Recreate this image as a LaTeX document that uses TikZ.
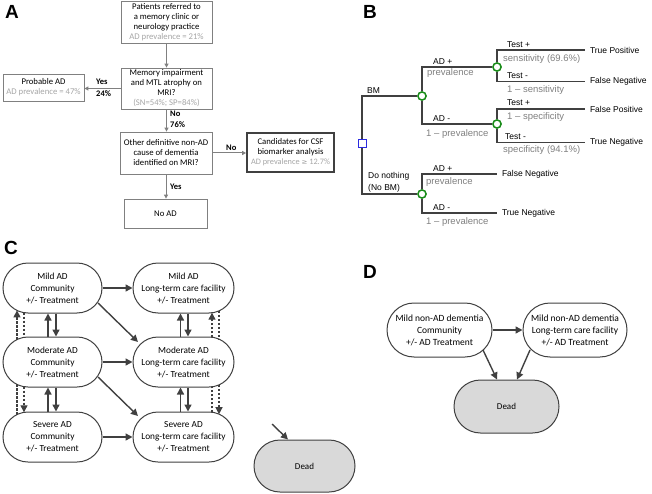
\documentclass[tikz,border=0pt]{standalone}
\usepackage{fontspec}
\setmainfont{Carlito}
\newfontfamily\arial{Liberation Sans}
\newfontfamily\djv{DejaVu Sans}
\usetikzlibrary{arrows.meta,shapes.misc,calc}
\definecolor{agray}{HTML}{808080}
\definecolor{ltext}{HTML}{A6A6A6}
\definecolor{btext}{HTML}{808080}
\definecolor{dk}{HTML}{404040}
\definecolor{tgreen}{HTML}{1A8C1A}
\definecolor{tblue}{HTML}{2B2BE0}
\definecolor{deadfill}{HTML}{D9D9D9}
\tikzset{
  plabel/.style={font=\arial\bfseries\fontsize{19}{19}\selectfont, inner sep=0pt},
  abox/.style={draw=agray, line width=0.8pt, fill=white, align=center, inner sep=0pt, font=\fontsize{8.7}{10}\selectfont},
  thickbox/.style={abox, draw=dk, line width=1.8pt},
  aarr/.style={draw=agray, line width=1pt, -{Triangle[length=4pt,width=4pt]}},
  alab/.style={font=\bfseries\fontsize{8.5}{10}\selectfont, inner sep=0pt, anchor=west},
  bl/.style={draw=dk, line width=1.1pt},
  circ/.style={circle, draw=tgreen, line width=1.4pt, fill=white, minimum size=8pt, inner sep=0pt},
  sqn/.style={rectangle, draw=tblue, line width=1pt, fill=white, minimum size=8pt, inner sep=0pt},
  blab/.style={font=\arial\fontsize{8.5}{10}\selectfont, inner sep=0pt, anchor=base west},
  glab/.style={font=\arial\fontsize{9.5}{11}\selectfont, text=btext, inner sep=0pt, anchor=base west},
  outc/.style={font=\arial\fontsize{8.5}{10}\selectfont, inner xsep=5pt, inner ysep=0pt, anchor=west, outer sep=0pt},
  cbox/.style={rounded rectangle, draw=dk, line width=1pt, fill=white, align=center, inner sep=0pt, minimum width=99pt, minimum height=50pt, font=\fontsize{9.3}{12}\selectfont},
  dbox/.style={cbox, minimum width=105pt, minimum height=54pt, font=\fontsize{9.5}{12}\selectfont},
  deadbox/.style={cbox, fill=deadfill},
  carr/.style={draw=dk, line width=1.4pt, -{Triangle[length=7pt,width=7pt]}},
  cdash/.style={draw=dk, line width=1.2pt, dash pattern=on 2.5pt off 1.5pt},
  cdarr/.style={cdash, -{Triangle[length=7pt,width=7pt]}}
}
\begin{document}
\begin{tikzpicture}[x=1pt,y=-1pt]
\useasboundingbox (0,0) rectangle (652,494);

% ---------- Panel labels
\node[plabel] (lA) at (12,12) {A};
\node[plabel] (lB) at (370,12) {B};
\node[plabel] (lC) at (11,248) {C};
\node[plabel] (lD) at (370,272) {D};

% ---------- Panel A
\node[abox, minimum width=91pt, minimum height=42pt] (a1) at (166.5,22) {Patients referred to\\a memory clinic or\\neurology practice\\\textcolor{ltext}{AD prevalence = 21\%}};
\node[abox, minimum width=91pt, minimum height=41pt] (a2) at (166.5,88.5) {Memory impairment\\and MTL atrophy on\\MRI?\\\textcolor{ltext}{(SN=54\%; SP=84\%)}};
\node[abox, minimum width=81pt, minimum height=27pt] (pad) at (43.5,87.5) {Probable AD\\\textcolor{ltext}{AD prevalence = 47\%}};
\node[abox, minimum width=92pt, minimum height=42pt] (a3) at (166,153) {Other definitive non-AD\\cause of dementia\\identified on MRI?};
\node[thickbox, minimum width=87pt, minimum height=39pt] (a4) at (290.5,152.5) {Candidates for CSF\\biomarker analysis\\\textcolor{ltext}{\fontsize{8.3}{10}\selectfont AD prevalence {\djv\fontsize{7}{10}\selectfont≥} 12.7\%}};
\node[abox, minimum width=83pt, minimum height=29pt] (a5) at (165.5,213.5) {No AD};

\draw[aarr] (a1.south) -- (a2.north);
\draw[aarr] (a2.west) -- (a2.west -| pad.east);
\draw[aarr] (a2.south) -- (a2.south |- a3.north);
\draw[aarr] (a3.east) -- (a3.east -| a4.west);
\draw[aarr] (a3.south) -- (a3.south |- a5.north);

\node[alab] (yes1) at (96,82) {Yes};
\node[alab] (p24) at (96,93.5) {24\%};
\node[alab] (no1) at (170,114) {No};
\node[alab] (p76) at (170,125) {76\%};
\node[alab] (no2) at (226,148) {No};
\node[alab] (yes2) at (170,187) {Yes};

% ---------- Panel B
\node[sqn] (r) at (362,144) {};
\node[circ] (c1) at (422,96) {};
\node[circ] (c2) at (422,194) {};
\node[circ] (c3) at (497,67) {};
\node[circ] (c4) at (497,124) {};
\node[outc] (o1) at (585,50) {True Positive};
\node[outc] (o2) at (585,81.5) {False Negative};
\node[outc] (o3) at (585,109) {False Positive};
\node[outc] (o4) at (585,142.5) {True Negative};
\node[outc] (o5) at (497,174) {False Negative};
\node[outc] (o6) at (497,213) {True Negative};

\draw[bl] (r) |- (c1);
\draw[bl] (r) |- (c2);
\draw[bl] (c1) |- (c3);
\draw[bl] (c1) |- (c4);
\draw[bl] (c3) |- (o1);
\draw[bl] (c3) |- (o2);
\draw[bl] (c4) |- (o3);
\draw[bl] (c4) |- (o4);
\draw[bl] (c2) |- (o5);
\draw[bl] (c2) |- (o6);
\node[sqn] (r2) at (362,144) {};
\node[circ] (c1b) at (422,96) {};
\node[circ] (c2b) at (422,194) {};
\node[circ] (c3b) at (497,67) {};
\node[circ] (c4b) at (497,124) {};

\node[blab] (bm) at (367,93.5) {BM};
\node[blab] (adp1) at (433,64.5) {AD +};
\node[glab] (pr1) at (427,76) {prevalence};
\node[blab] (adm1) at (433,121.5) {AD -};
\node[glab] (pr2) at (426,136.5) {1 – prevalence};
\node[blab] (tp1) at (507,47.5) {Test +};
\node[glab] (se1) at (503,62) {sensitivity (69.6\%)};
\node[blab] (tm1) at (507,79) {Test -};
\node[glab] (se2) at (507,93) {1 – sensitivity};
\node[blab] (tp2) at (507,106) {Test +};
\node[glab] (sp1) at (507,120) {1 – specificity};
\node[blab] (tm2) at (505,139.5) {Test -};
\node[glab] (sp2) at (503,153) {specificity (94.1\%)};
\node[blab] (dn1) at (368,179) {Do nothing};
\node[blab] (dn2) at (368,191) {(No BM)};
\node[blab] (adp2) at (433,171.5) {AD +};
\node[glab] (pr3) at (426,185) {prevalence};
\node[blab] (adm2) at (433,210.5) {AD -};
\node[glab] (pr4) at (426,224) {1 – prevalence};

% ---------- Panel C
\node[cbox] (mildC) at (52.5,288) {Mild AD\\Community\\+/- Treatment};
\node[cbox, minimum width=101pt] (mildL) at (183.5,288) {Mild AD\\Long-term care facility\\+/- Treatment};
\node[cbox] (modC) at (52.5,362) {Moderate AD\\Community\\+/- Treatment};
\node[cbox, minimum width=101pt] (modL) at (183.5,362) {Moderate AD\\Long-term care facility\\+/- Treatment};
\node[cbox] (sevC) at (52.5,437) {Severe AD\\Community\\+/- Treatment};
\node[cbox, minimum width=101pt] (sevL) at (183.5,437) {Severe AD\\Long-term care facility\\+/- Treatment};
\node[deadbox, minimum width=101pt, minimum height=52pt, font=\fontsize{9}{11}\selectfont] (deadC) at (304.5,466) {Dead};

\draw[carr] (mildC.east) -- (mildL.west);
\draw[carr] (modC.east) -- (modL.west);
\draw[carr] (sevC.east) -- (sevL.west);
\draw[carr] ([shift={(45.5,15)}]mildC.center) -- ([shift={(-45.5,-20)}]modL.center);
\draw[carr] ([shift={(45.5,15)}]modC.center) -- ([shift={(-45.5,-21)}]sevL.center);

% left column vertical arrows
\draw[carr] ([xshift=-4.5]modC.north) -- ([xshift=-4.5]mildC.south);
\draw[carr] ([xshift=3.5]mildC.south) -- ([xshift=3.5]modC.north);
\draw[carr] ([xshift=-4.5]sevC.north) -- ([xshift=-4.5]modC.south);
\draw[carr] ([xshift=3.5]modC.south) -- ([xshift=3.5]sevC.north);
\draw[cdarr] ([shift={(-35.5,-22.4)}]modC.center) -- ([shift={(-35.5,22.4)}]mildC.center);
\draw[cdash] ([shift={(-28.5,24.7)}]mildC.center) -- ([shift={(-28.5,-24.7)}]modC.center);
\draw[cdash] ([shift={(-35.5,-22.4)}]sevC.center) -- ([shift={(-35.5,22.4)}]modC.center);
\draw[cdarr] ([shift={(-28.5,24.7)}]modC.center) -- ([shift={(-28.5,-24.7)}]sevC.center);

% right column vertical arrows
\draw[carr] ([xshift=-3]modL.north) -- ([xshift=-3]mildL.south);
\draw[carr] ([xshift=4.5]mildL.south) -- ([xshift=4.5]modL.north);
\draw[carr] ([xshift=-3]sevL.north) -- ([xshift=-3]modL.south);
\draw[carr] ([xshift=4.5]modL.south) -- ([xshift=4.5]sevL.north);
\draw[cdarr] ([shift={(28.5,-24.7)}]modL.center) -- ([shift={(28.5,24.7)}]mildL.center);
\draw[cdash] ([shift={(35.5,22.8)}]mildL.center) -- ([shift={(35.5,-22.8)}]modL.center);
\draw[cdash] ([shift={(28.5,-24.7)}]sevL.center) -- ([shift={(28.5,24.7)}]modL.center);
\draw[cdarr] ([shift={(35.5,22.8)}]modL.center) -- ([shift={(35.5,-22.8)}]sevL.center);

\coordinate (cin) at (272,424);
\draw[carr] (cin) -- ([xshift=-16.5]deadC.north);

% ---------- Panel D
\node[dbox] (nadC) at (439.5,330) {Mild non-AD dementia\\Community\\+/- AD Treatment};
\node[dbox, minimum width=104pt] (nadL) at (575,330) {Mild non-AD dementia\\Long-term care facility\\+/- AD Treatment};
\node[deadbox, minimum width=105pt, minimum height=53pt, font=\fontsize{9}{11}\selectfont] (deadD) at (506.5,406.5) {Dead};

\draw[carr] (nadC.east) -- (nadL.west);
\draw[carr] ([shift={(43.5,20)}]nadC.center) -- ([xshift=-9.5]deadD.north);
\draw[carr] ([shift={(-45,20)}]nadL.center) -- ([xshift=10.5]deadD.north);

\end{tikzpicture}
\end{document}
